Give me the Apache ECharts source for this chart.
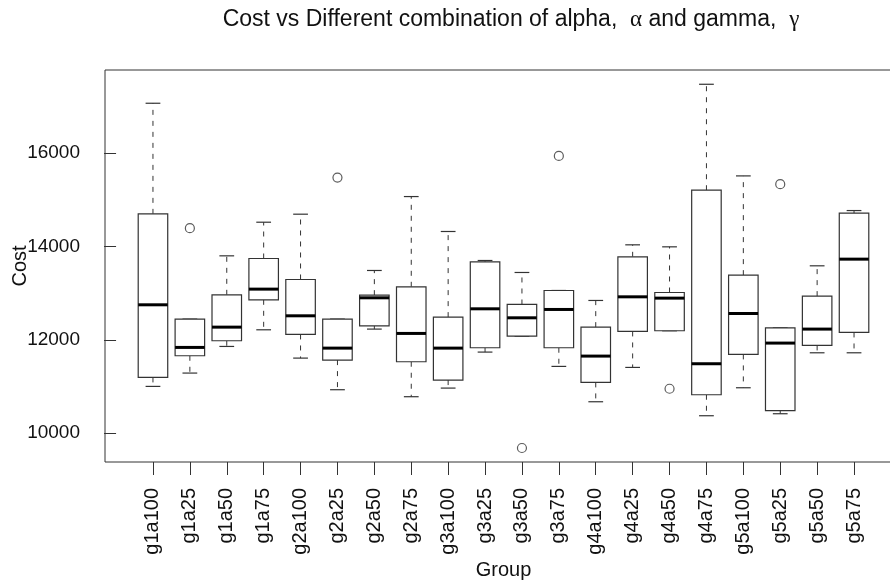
<!DOCTYPE html>
<html>
<head>
<meta charset="utf-8">
<script src="https://cdn.jsdelivr.net/npm/echarts@6/dist/echarts.min.js"></script>
<style>
html,body{margin:0;padding:0;background:#fff;}
#chart{width:890px;height:582px;}
</style>
</head>
<body>
<div id="chart"></div>
<script>
const categories = ['g1a100','g1a25','g1a50','g1a75','g2a100','g2a25','g2a50','g2a75','g3a100','g3a25','g3a50','g3a75','g4a100','g4a25','g4a50','g4a75','g5a100','g5a25','g5a50','g5a75'];
const whiskerLow  = [11000,11286,11857,12214,11607,10929,12229,10779,10964,11736,12079,11429,10671,11407,12193,10371,10971,10414,11721,11721];
const q1          = [11193,11657,11979,12857,12114,11564,12300,11529,11136,11829,12079,11829,11086,12179,12193,10821,11686,10479,11879,12157];
const median      = [12750,11836,12271,13086,12514,11821,12900,12136,11821,12664,12471,12650,11650,12921,12893,11486,12564,11929,12229,13729];
const q3          = [14700,12443,12964,13743,13293,12443,12957,13136,12486,13671,12757,13057,12271,13779,13014,15207,13386,12257,12936,14714];
const whiskerHigh = [17072,12443,13800,14521,14693,12443,13486,15071,14322,13700,13443,13057,12843,14036,13993,17479,15514,12257,13586,14771];
const outlierGroup = ['g1a25','g2a25','g3a50','g3a75','g4a50','g5a25'];
const outlierValue = [14393,15479,9679,15943,10950,15336];
const yTicks = [10000,12000,14000,16000];

const xPos = categories.map((c,i)=>i+1);
const boxData = categories.map((c,i)=>[i+1, whiskerLow[i], q1[i], median[i], q3[i], whiskerHigh[i]]);
const outlierData = outlierGroup.map((g,i)=>[categories.indexOf(g)+1, outlierValue[i]]);

const chart = echarts.init(document.getElementById('chart'), null, {renderer:'canvas'});
const FONT = 'Liberation Sans, Arial, Helvetica, sans-serif';

chart.setOption({
  backgroundColor:'#fff',
  animation:false,
  title:{
    text:'Cost vs Different combination of alpha,  {g|α} and gamma,  {g|γ}',
    left:511, top:8, textAlign:'center', padding:0,
    textStyle:{fontFamily:FONT, fontSize:23, fontWeight:'normal', color:'#111',
      rich:{g:{fontFamily:'Liberation Serif, DejaVu Serif, serif', fontSize:23, color:'#111'}}}
  },
  grid:{left:105, top:70, width:797, height:392, containLabel:false, outerBoundsMode:'none',
    show:true, borderColor:'#333', borderWidth:1, backgroundColor:'transparent'},
  xAxis:{
    type:'value', min:-0.3, max:21.3,
    name:'Group', nameLocation:'middle', nameGap:98, nameMoveOverlap:false,
    nameTextStyle:{fontFamily:FONT, fontSize:20, color:'#111'},
    axisLine:{show:false},
    splitLine:{show:false},
    axisTick:{show:true, customValues:xPos, length:13, lineStyle:{color:'#333', width:1}},
    axisLabel:{show:true, customValues:xPos, rotate:90, margin:26, fontFamily:FONT, fontSize:20, color:'#111',
      formatter:(v)=>categories[Math.round(v)-1] || ''}
  },
  yAxis:{
    type:'value', min:9379, max:17785,
    name:'Cost', nameLocation:'middle', nameGap:75, nameMoveOverlap:false,
    nameTextStyle:{fontFamily:FONT, fontSize:20, color:'#111'},
    axisLine:{show:false},
    splitLine:{show:false},
    axisTick:{show:true, customValues:yTicks, length:12, lineStyle:{color:'#333', width:1}},
    axisLabel:{show:true, customValues:yTicks, margin:25, fontFamily:FONT, fontSize:19, color:'#111',
      formatter:(v)=>String(v)}
  },
  series:[
    {
      type:'custom',
      data:boxData,
      encode:{x:0, y:[1,2,3,4,5]},
      renderItem:function(params, api){
        const x = api.value(0);
        const lo = api.coord([x, api.value(1)]);
        const b1 = api.coord([x, api.value(2)]);
        const md = api.coord([x, api.value(3)]);
        const b3 = api.coord([x, api.value(4)]);
        const hi = api.coord([x, api.value(5)]);
        const unit = api.size([1,0])[0];
        const hw = unit*0.4;
        const cw = hw*0.5;
        const cx = lo[0];
        const stroke = '#333';
        const children = [];
        children.push({type:'line', shape:{x1:cx, y1:b3[1], x2:cx, y2:hi[1]}, style:{stroke:stroke, lineWidth:1, lineDash:[5,6]}});
        children.push({type:'line', shape:{x1:cx, y1:b1[1], x2:cx, y2:lo[1]}, style:{stroke:stroke, lineWidth:1, lineDash:[5,6]}});
        children.push({type:'line', shape:{x1:cx-cw, y1:hi[1], x2:cx+cw, y2:hi[1]}, style:{stroke:stroke, lineWidth:1.2}});
        children.push({type:'line', shape:{x1:cx-cw, y1:lo[1], x2:cx+cw, y2:lo[1]}, style:{stroke:stroke, lineWidth:1.2}});
        children.push({type:'rect', shape:{x:cx-hw, y:b3[1], width:2*hw, height:b1[1]-b3[1]}, style:{fill:'#fff', stroke:stroke, lineWidth:1.2}});
        children.push({type:'line', shape:{x1:cx-hw, y1:md[1], x2:cx+hw, y2:md[1]}, style:{stroke:'#000', lineWidth:3}});
        return {type:'group', children:children};
      }
    },
    {
      type:'scatter',
      data:outlierData,
      symbol:'circle', symbolSize:9,
      itemStyle:{color:'#fff', borderColor:'#333', borderWidth:1.2}
    }
  ]
});
</script>
</body>
</html>
